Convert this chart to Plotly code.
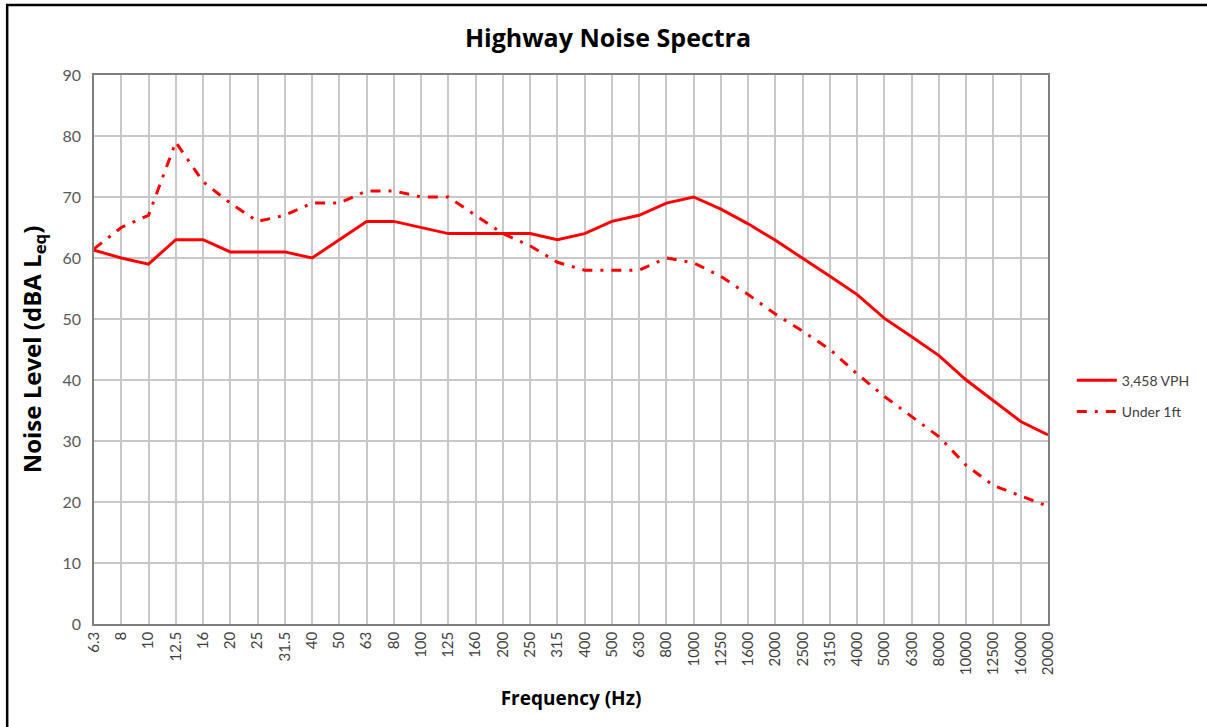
import plotly.graph_objects as go

freq_labels = ["6.3", "8", "10", "12.5", "16", "20", "25", "31.5", "40", "50",
               "63", "80", "100", "125", "160", "200", "250", "315", "400", "500",
               "630", "800", "1000", "1250", "1600", "2000", "2500", "3150", "4000", "5000",
               "6300", "8000", "10000", "12500", "16000", "20000"]

vph_3458 = [61.3, 60, 59, 63, 63, 61, 61, 61, 60, 63,
            66, 66, 65, 64, 64, 64, 64, 63, 64, 66,
            67, 69, 70, 68, 65.6, 62.9, 60, 57, 54, 50.1,
            47.1, 44, 40, 36.6, 33.2, 31]

under_1ft = [61.5, 65, 67, 79, 72.5, 69, 66, 67, 69, 69,
             71, 71, 70, 70, 67, 64, 62, 59.3, 58, 58,
             58, 60, 59.2, 57, 54, 50.8, 48, 45, 41, 37.3,
             34, 30.7, 26, 22.7, 21, 19.3]

y_ticks = [0, 10, 20, 30, 40, 50, 60, 70, 80, 90]

FONT = "Lato"
TFONT = "Open Sans"
RED = "#FF0000"

fig = go.Figure()
fig.add_trace(go.Scatter(x=freq_labels, y=vph_3458, mode="lines", name="3,458 VPH",
                         legendgroup="a", line=dict(color=RED, width=3)))
fig.add_trace(go.Scatter(x=freq_labels, y=under_1ft, mode="lines", name="Under 1ft",
                         legendgroup="b", line=dict(color=RED, width=3, dash="10px,8px,3px,8px")))

fig.update_layout(
    width=1207, height=727,
    margin=dict(l=94, r=157, t=75, b=103),
    paper_bgcolor="white", plot_bgcolor="white",
    font=dict(family=FONT, color="#595959", size=13),
    title=dict(text="<b>Highway Noise Spectra</b>", x=608 / 1207, xref="container", xanchor="center",
               y=1 - 38 / 727, yref="container", yanchor="middle",
               font=dict(family=TFONT, size=25, color="#000000")),
    showlegend=True,
    legend=dict(x=1.025, xanchor="left", y=0.415, yanchor="middle",
                font=dict(family=FONT, size=14, color="#404040"),
                bgcolor="rgba(0,0,0,0)", tracegroupgap=10, itemwidth=40),
    xaxis=dict(type="category", categoryorder="array", categoryarray=freq_labels,
               range=[0, len(freq_labels) - 1], tickangle=-90,
               showgrid=True, gridcolor="#C8C8C8", gridwidth=1.5,
               showline=True, linecolor="#7F7F7F", linewidth=1.5, mirror=True,
               ticks="", tickfont=dict(family=FONT, size=15, color="#404040"),
               title=dict(text="<b>Frequency (Hz)</b>", standoff=17,
                          font=dict(family=TFONT, size=19, color="#000000"))),
    yaxis=dict(range=[0, 90], tickvals=y_ticks,
               showgrid=True, gridcolor="#C8C8C8", gridwidth=1.5,
               showline=True, linecolor="#7F7F7F", linewidth=1.5, mirror=True,
               ticks="", ticklabelstandoff=8, zeroline=False,
               tickfont=dict(family=FONT, size=16, color="#595959"),
               title=dict(text="<b>Noise Level (dBA L<sub>eq</sub>)</b>", standoff=14,
                          font=dict(family=TFONT, size=24, color="#000000"))),
    shapes=[dict(type="rect", xref="paper", yref="paper",
                 x0=(7 - 94) / 956, x1=1.25, y0=-0.3, y1=(624 - 5) / 549,
                 line=dict(color="black", width=2.5), fillcolor="rgba(0,0,0,0)", layer="above")],
)

fig.write_html("out.html", config={"displayModeBar": False},
               post_script="document.body.style.margin='0';document.body.style.padding='0';")
